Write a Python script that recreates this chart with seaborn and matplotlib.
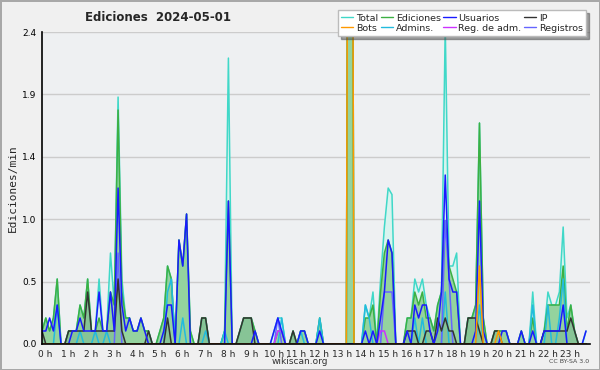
import numpy as np
import pandas as pd
import matplotlib
matplotlib.use('Agg')
import matplotlib.pyplot as plt
import matplotlib.transforms as mtransforms
import seaborn as sns
from matplotlib.ticker import MultipleLocator, FixedLocator, FormatStrFormatter

# ediciones por minuto, en intervalos de 10 minutos (6 valores por hora)
total = [
    0.1, 0.2, 0.1, 0.2, 0.5, 0,    0, 0.1, 0.1, 0.1, 0.3, 0.2,    0.5, 0.1, 0.1, 0.5, 0.1, 0.1,
    0.7, 0.3, 1.9, 0.5, 0.2, 0.2,  0.1, 0.1, 0.2, 0.1, 0.1, 0,    0, 0.1, 0.2, 0.6, 0.5, 0,
    0.8, 0.6, 1.0, 0.1, 0, 0,      0.2, 0.2, 0, 0, 0, 0,          0.1, 2.2, 0, 0, 0.1, 0.2,
    0.2, 0.2, 0.1, 0, 0, 0,        0, 0.1, 0.2, 0.2, 0, 0,        0.1, 0, 0.1, 0.1, 0, 0,
    0, 0.2, 0, 0, 0, 0,            0, 0, 0, 10, 0, 0,             0, 0.3, 0.2, 0.4, 0, 0.5,
    0.9, 1.2, 1.15, 0, 0, 0,       0.2, 0.2, 0.5, 0.4, 0.5, 0.3,  0.2, 0.1, 0.3, 0.4, 2.45, 0.6,
    0.6, 0.7, 0, 0, 0.2, 0.2,      0.3, 1.7, 0.2, 0, 0, 0.1,      0.1, 0.1, 0.1, 0, 0, 0,
    0.1, 0, 0, 0.4, 0, 0,          0.1, 0.4, 0.3, 0.3, 0.4, 0.9,  0.2, 0.3, 0.1, 0, 0, 0.1,
]
ediciones = [
    0.1, 0.2, 0.1, 0.2, 0.5, 0,    0, 0.1, 0.1, 0.1, 0.3, 0.2,    0.5, 0.1, 0.1, 0.2, 0.1, 0.1,
    0.4, 0.3, 1.8, 0.4, 0.2, 0.2,  0.1, 0.1, 0.2, 0.1, 0.1, 0,    0, 0.1, 0.2, 0.6, 0.5, 0,
    0.8, 0.6, 1.0, 0.1, 0, 0,      0.2, 0.2, 0, 0, 0, 0,          0.1, 1.1, 0, 0, 0.1, 0.2,
    0.2, 0.2, 0.1, 0, 0, 0,        0, 0, 0.1, 0.1, 0, 0,          0.1, 0, 0.1, 0.1, 0, 0,
    0, 0.2, 0, 0, 0, 0,            0, 0, 0, 10, 0, 0,             0, 0.2, 0.2, 0.3, 0, 0.4,
    0.7, 0.8, 0.7, 0, 0, 0,        0.2, 0.2, 0.4, 0.3, 0.4, 0.2,  0.2, 0.1, 0.3, 0.4, 0.95, 0.6,
    0.5, 0.4, 0, 0, 0.2, 0.2,      0.3, 1.7, 0.2, 0, 0, 0.1,      0.1, 0.1, 0.1, 0, 0, 0,
    0.1, 0, 0, 0.2, 0, 0,          0.1, 0.3, 0.3, 0.3, 0.3, 0.6,  0.1, 0.3, 0.1, 0, 0, 0,
]
usuarios = [
    0.1, 0.1, 0.2, 0.1, 0.3, 0,    0, 0, 0.1, 0.1, 0.2, 0.1,      0.1, 0.1, 0.1, 0.4, 0.1, 0.1,
    0.4, 0.1, 1.2, 0.3, 0.1, 0.2,  0.1, 0.1, 0.2, 0.1, 0, 0,      0, 0, 0.1, 0.3, 0.3, 0,
    0.8, 0.6, 1.0, 0, 0, 0,        0, 0, 0, 0, 0, 0,              0, 1.1, 0, 0, 0, 0,
    0, 0, 0.1, 0, 0, 0,            0, 0.1, 0.2, 0.1, 0, 0,        0, 0, 0.1, 0.1, 0, 0,
    0, 0.1, 0, 0, 0, 0,            0, 0, 0, 0, 0, 0,              0, 0.1, 0, 0.1, 0, 0.2,
    0.4, 0.8, 0.7, 0, 0, 0,        0.1, 0, 0.3, 0.2, 0.3, 0.3,    0.1, 0, 0.1, 0.4, 1.3, 0.5,
    0.4, 0.4, 0, 0, 0, 0,          0.1, 1.1, 0.1, 0, 0, 0,        0, 0.1, 0.1, 0, 0, 0,
    0.1, 0, 0, 0.1, 0, 0,          0.1, 0.1, 0.1, 0.1, 0.1, 0.3,  0, 0, 0, 0, 0, 0.1,
]
ip = [
    0.1, 0, 0, 0, 0, 0,            0, 0.1, 0.1, 0.1, 0.1, 0.1,    0.4, 0.1, 0.1, 0.1, 0.1, 0.1,
    0.1, 0.1, 0.5, 0.1, 0, 0,      0, 0, 0, 0, 0.1, 0,            0, 0, 0, 0.2, 0, 0,
    0, 0, 0, 0, 0, 0,              0.2, 0.2, 0, 0, 0, 0,          0, 0, 0, 0, 0.1, 0.2,
    0.2, 0.2, 0, 0, 0, 0,          0, 0, 0, 0, 0, 0,              0.1, 0, 0, 0, 0, 0,
    0, 0, 0, 0, 0, 0,              0, 0, 0, 0, 0, 0,              0, 0, 0, 0, 0, 0,
    0, 0, 0, 0, 0, 0,              0.1, 0.1, 0.1, 0, 0, 0.1,      0.1, 0, 0.2, 0.1, 0.2, 0.1,
    0.1, 0, 0, 0, 0.2, 0.2,        0.2, 0.1, 0, 0, 0, 0.1,        0.1, 0, 0, 0, 0, 0,
    0, 0, 0, 0, 0, 0,              0.1, 0.1, 0.1, 0.1, 0.1, 0.1,  0.1, 0.2, 0.1, 0, 0, 0,
]
# series con pocas ediciones: {intervalo: valor}
bots_pts = {81: 10, 115: 0.6, 120: 0.1}
admins_pts = {4: 0.3, 10: 0.1, 14: 0.1, 17: 0.1, 33: 0.4, 34: 0.5, 37: 0.2, 43: 0.1, 48: 0.1,
              63: 0.2, 68: 0.1, 73: 0.2, 85: 0.3, 86: 0.2, 98: 0.2, 100: 0.2, 106: 0.4,
              115: 0.3, 129: 0.3, 133: 0.3, 136: 0.2, 137: 0.5}
reg_adm_pts = {62: 0.1, 63: 0.1, 89: 0.1, 90: 0.1}
registros_pts = {20: 0.7, 62: 0.2, 90: 0.4, 91: 0.4, 92: 0.4, 106: 0.95, 107: 0.5}

horas = np.arange(144) / 6.0


def expand(pts):
    v = np.zeros(144)
    for k, val in pts.items():
        v[k] = val
    return v


df = pd.DataFrame({
    'hora': horas,
    'Total': total,
    'Ediciones': ediciones,
    'Usuarios': usuarios,
    'IP': ip,
    'Bots': expand(bots_pts),
    'Admins.': expand(admins_pts),
    'Reg. de adm.': expand(reg_adm_pts),
    'Registros': expand(registros_pts),
})

colors = {
    'Total': '#40d8c8',
    'Ediciones': '#3cb043',
    'Usuarios': '#1a1aff',
    'IP': '#333333',
    'Bots': '#ff9900',
    'Admins.': '#22bbdd',
    'Reg. de adm.': '#cc33ff',
    'Registros': '#6666ff',
}

sns.set_style('white')
plt.rcParams['font.family'] = ['DejaVu Sans']

fig = plt.figure(figsize=(6, 3.7), dpi=100, facecolor='#f0f0f0',
                 edgecolor='#a8a8a8', linewidth=2)
ax = fig.add_axes([0.07, 0.0703, 0.913, 0.843])
ax.set_facecolor('#eef0f2')

# areas
ax.fill_between(df['hora'], df['Total'], color='#d8f4ef', lw=0)
ax.fill_between(df['hora'], df['Ediciones'], color='#5cb85c', alpha=0.55, lw=0)
ax.fill_between(df['hora'], df['IP'], color='#2f5f5f', alpha=0.12, lw=0)

for name in ['Total', 'Ediciones', 'Admins.', 'Registros', 'Reg. de adm.', 'IP', 'Usuarios', 'Bots']:
    sns.lineplot(data=df, x='hora', y=name, ax=ax, color=colors[name], lw=1.1, label=name, legend=False)

ax.set_xlim(0, 24)
ax.set_ylim(0, 2.4)
ax.yaxis.set_major_locator(FixedLocator(np.arange(6) * 0.48))
ax.yaxis.set_major_formatter(FormatStrFormatter('%.1f'))
ax.set_xticks(np.arange(25))
ax.set_xticklabels([f'{h} h' for h in range(24)] + [''])
ax.xaxis.set_minor_locator(MultipleLocator(1 / 6))
ax.tick_params(axis='x', which='both', direction='out', length=3.5, width=0.8, pad=0.5, labelsize=6.5)
ax.tick_params(axis='y', direction='out', length=3, width=0.8, pad=1, labelsize=6.5, colors='black')
shift = mtransforms.ScaledTranslation(2.5 / 72, 0, fig.dpi_scale_trans)
for lab in ax.get_xticklabels():
    lab.set_transform(lab.get_transform() + shift)
ax.grid(axis='y', color='#cccccc', lw=1)
ax.set_axisbelow(True)
for s in ['top', 'right']:
    ax.spines[s].set_visible(False)
for s in ['left', 'bottom']:
    ax.spines[s].set_color('black')
    ax.spines[s].set_linewidth(1.2)
ax.set_xlabel('')
ax.set_ylabel('Ediciones/min', fontsize=8, family='DejaVu Sans Mono', labelpad=3)

fig.text(0.142, 0.953, 'Ediciones  2024-05-01', fontsize=8.5, fontweight='bold', va='center')
fig.text(0.5, 0.022, 'wikiscan.org', fontsize=6.5, ha='center', va='center', color='#333333')
fig.text(0.982, 0.022, 'CC BY-SA 3.0', fontsize=4.5, ha='right', va='center', color='#444444')

order = ['Total', 'Bots', 'Ediciones', 'Admins.', 'Usuarios', 'Reg. de adm.', 'IP', 'Registros']
handles = [plt.Line2D([], [], color=colors[n], lw=1) for n in order]
fig.legend(handles, order, loc='upper right', bbox_to_anchor=(0.985, 0.985), ncol=4,
           fontsize=6.8, handlelength=1.3, handletextpad=0.3, columnspacing=0.25,
           labelspacing=0.1, borderpad=0.35, frameon=True, fancybox=False, shadow=True,
           framealpha=1, edgecolor='#bbbbbb')

fig.savefig('out.png', dpi=100, facecolor=fig.get_facecolor(), edgecolor=fig.get_edgecolor())
